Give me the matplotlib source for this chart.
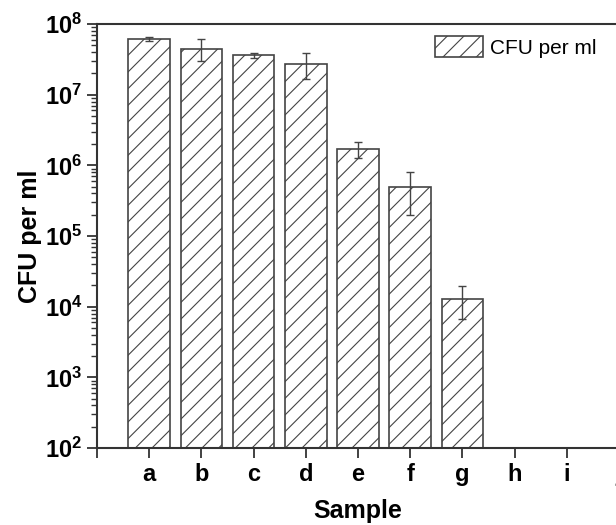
import math
import matplotlib
matplotlib.use('Agg')
import matplotlib.pyplot as plt
from matplotlib.ticker import FixedLocator, FuncFormatter, LogLocator, NullFormatter

plt.rcParams['font.family'] = ['Liberation Sans', 'DejaVu Sans']
plt.rcParams['mathtext.fontset'] = 'custom'
plt.rcParams['mathtext.bf'] = 'Liberation Sans:bold'
plt.rcParams['mathtext.rm'] = 'Liberation Sans'
plt.rcParams['hatch.linewidth'] = 0.8
plt.rcParams['hatch.color'] = '#555555'

# --------------- 数据 ---------------
samples = ['a', 'b', 'c', 'd', 'e', 'f', 'g', 'h', 'i', 'j']
cfu = [6.1e7, 4.5e7, 3.6e7, 2.75e7, 1.7e6, 5.0e5, 1.3e4]
cfu_err = [4e6, 1.55e7, 3.5e6, 1.1e7, 4.2e5, 3.0e5, 6.4e3]

fig = plt.figure(figsize=(6.16, 5.25), dpi=100)
ax = fig.add_axes([97 / 616, 77 / 525, 522 / 616, 424 / 525])

xs = list(range(1, len(cfu) + 1))
ax.bar(xs, cfu, width=0.8, color='white', edgecolor='#444444', linewidth=1.2,
       hatch='//', label='CFU per ml', zorder=2)
ax.errorbar(xs, cfu, yerr=cfu_err, fmt='none', ecolor='#444444',
            elinewidth=1.0, capsize=3, capthick=1.0, zorder=3)

ax.set_yscale('log')
ax.set_ylim(1e2, 1e8)
ax.set_xlim(0, 10)
ax.yaxis.set_major_locator(FixedLocator([1e2, 1e3, 1e4, 1e5, 1e6, 1e7, 1e8]))
ax.yaxis.set_major_formatter(FuncFormatter(
    lambda v, p: r'$\mathbf{10^{%d}}$' % round(math.log10(v))))
ax.yaxis.set_minor_locator(LogLocator(base=10, subs=range(2, 10)))
ax.yaxis.set_minor_formatter(NullFormatter())

ax.set_xticks(range(0, 11))
ax.set_xticklabels([''] + samples)

for sp in ['left', 'bottom', 'top']:
    ax.spines[sp].set_linewidth(1.5)
    ax.spines[sp].set_color('#333333')
ax.spines['right'].set_visible(False)

ax.tick_params(axis='both', which='major', direction='out', length=7, width=1.3,
               color='#333333', labelsize=17)
ax.tick_params(axis='y', which='minor', direction='out', length=4, width=1.0,
               color='#333333')
for lab in ax.get_xticklabels():
    lab.set_fontweight('bold')

ax.set_xlabel('Sample', fontsize=18, fontweight='bold', labelpad=10)
ax.set_ylabel('CFU per ml', fontsize=18, fontweight='bold', labelpad=2)

ax.legend(loc='upper left', bbox_to_anchor=(435 / 616, 1 - 36 / 525),
          bbox_transform=fig.transFigure, frameon=False, fontsize=15,
          handlelength=2.3, handleheight=1.2, handletextpad=0.35,
          borderpad=0, borderaxespad=0)

plt.savefig('out.png', dpi=100)
